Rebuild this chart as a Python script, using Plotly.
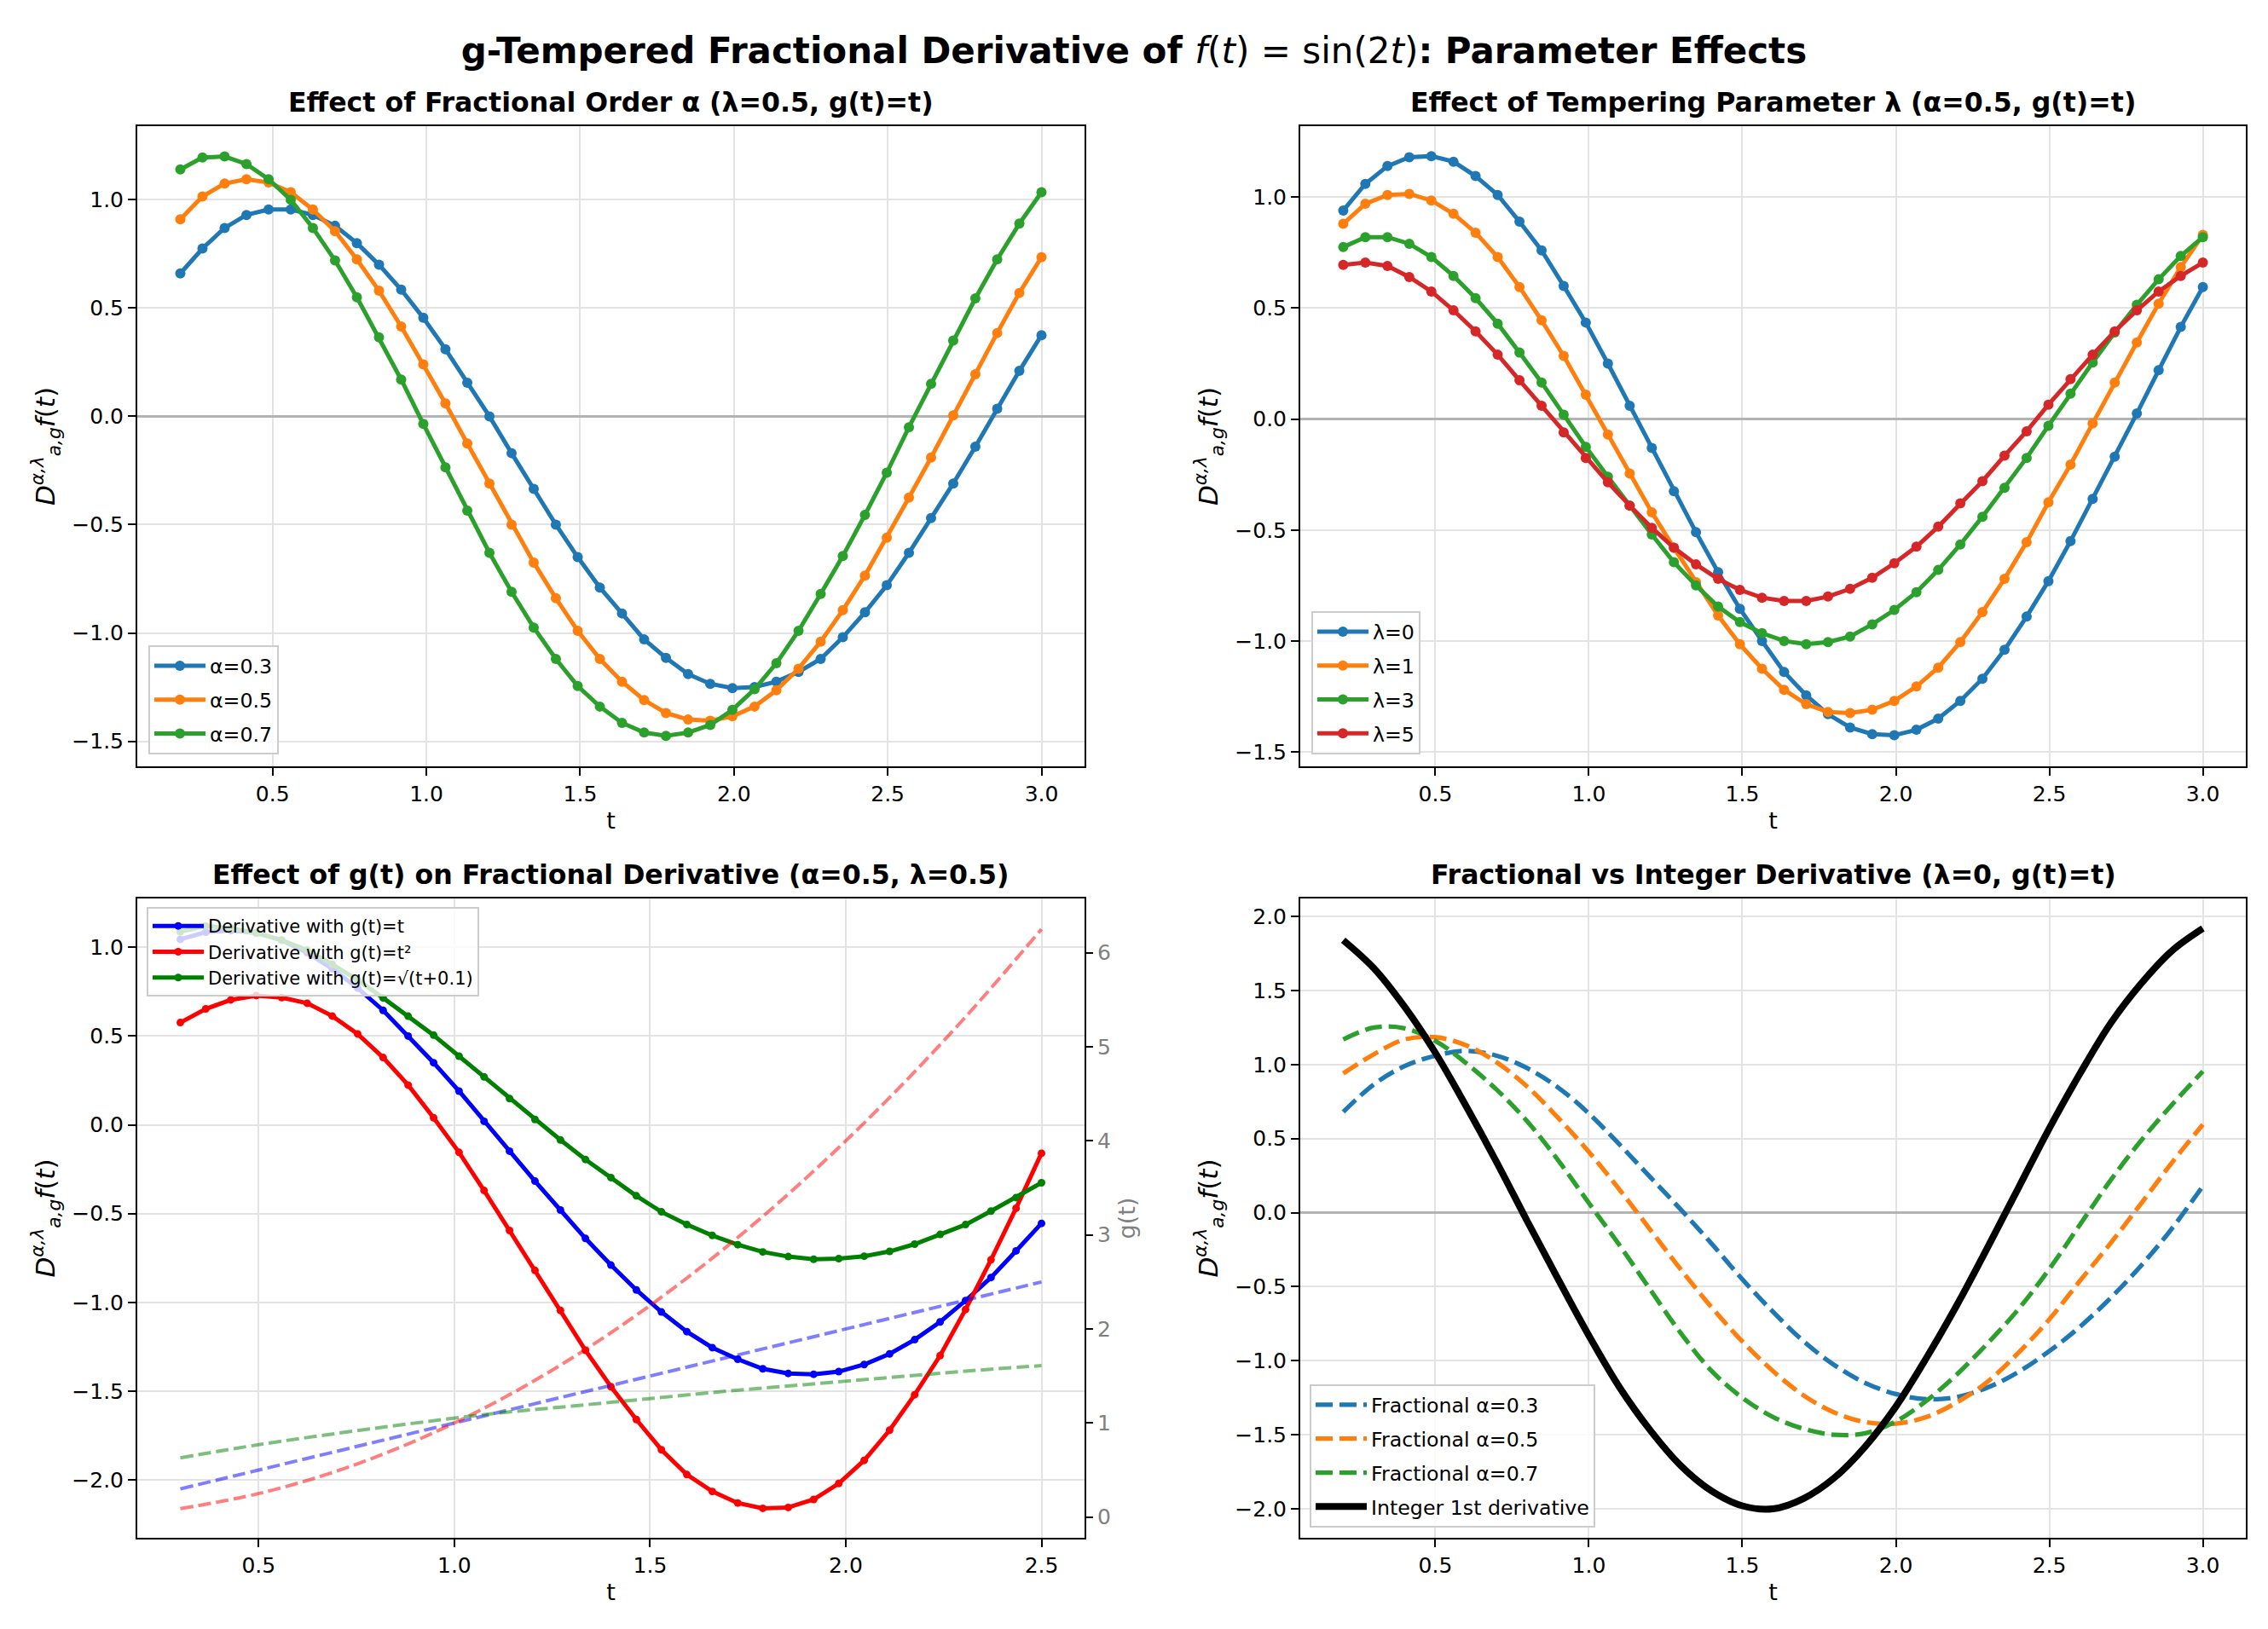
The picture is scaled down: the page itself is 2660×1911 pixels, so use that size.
import plotly.graph_objects as go

# ---------------- data ----------------
# common time grid for panels 1 and 2 (40 points)
t40 = [0.200, 0.272, 0.344, 0.415, 0.487, 0.559, 0.631, 0.703, 0.774, 0.846,
       0.918, 0.990, 1.062, 1.133, 1.205, 1.277, 1.349, 1.421, 1.492, 1.564,
       1.636, 1.708, 1.779, 1.851, 1.923, 1.995, 2.067, 2.138, 2.210, 2.282,
       2.354, 2.426, 2.497, 2.569, 2.641, 2.713, 2.785, 2.856, 2.928, 3.000]

# Panel 1: effect of alpha (lambda=0.5, g(t)=t)
alpha_labels = ["α=0.3", "α=0.5", "α=0.7"]
p1_a03 = [0.66, 0.775, 0.87, 0.93, 0.955, 0.955, 0.93, 0.88, 0.80, 0.70,
          0.585, 0.455, 0.31, 0.155, 0.0, -0.17, -0.335, -0.50, -0.65, -0.79,
          -0.91, -1.03, -1.115, -1.19, -1.235, -1.255, -1.25, -1.225, -1.18, -1.12,
          -1.02, -0.905, -0.78, -0.63, -0.47, -0.31, -0.14, 0.035, 0.21, 0.375]
p1_a05 = [0.91, 1.015, 1.075, 1.095, 1.08, 1.035, 0.955, 0.855, 0.725, 0.58,
          0.415, 0.24, 0.06, -0.125, -0.31, -0.50, -0.675, -0.84, -0.99, -1.12,
          -1.225, -1.31, -1.37, -1.40, -1.405, -1.385, -1.34, -1.265, -1.165, -1.04,
          -0.895, -0.735, -0.56, -0.375, -0.19, 0.005, 0.195, 0.385, 0.57, 0.735]
p1_a07 = [1.14, 1.195, 1.20, 1.165, 1.095, 1.00, 0.87, 0.72, 0.55, 0.365,
          0.17, -0.035, -0.235, -0.435, -0.63, -0.81, -0.975, -1.12, -1.245, -1.34,
          -1.415, -1.46, -1.475, -1.46, -1.425, -1.355, -1.26, -1.14, -0.99, -0.82,
          -0.645, -0.455, -0.26, -0.05, 0.15, 0.35, 0.545, 0.725, 0.89, 1.035]

# Panel 2: effect of lambda (alpha=0.5, g(t)=t)
lambda_labels = ["λ=0", "λ=1", "λ=3", "λ=5"]
p2_l0 = [0.94, 1.06, 1.14, 1.18, 1.185, 1.16, 1.095, 1.01, 0.89, 0.76,
         0.60, 0.435, 0.25, 0.06, -0.13, -0.325, -0.51, -0.69, -0.855, -1.00,
         -1.14, -1.245, -1.33, -1.39, -1.42, -1.425, -1.40, -1.35, -1.27, -1.17,
         -1.04, -0.89, -0.73, -0.55, -0.36, -0.17, 0.025, 0.22, 0.415, 0.595]
p2_l1 = [0.88, 0.97, 1.01, 1.015, 0.985, 0.925, 0.84, 0.73, 0.595, 0.445,
         0.285, 0.11, -0.07, -0.245, -0.42, -0.58, -0.735, -0.885, -1.015, -1.125,
         -1.22, -1.285, -1.32, -1.325, -1.31, -1.27, -1.205, -1.12, -1.005, -0.87,
         -0.72, -0.555, -0.375, -0.205, -0.02, 0.165, 0.345, 0.52, 0.685, 0.83]
p2_l3 = [0.775, 0.82, 0.82, 0.79, 0.73, 0.645, 0.545, 0.43, 0.30, 0.165,
         0.02, -0.125, -0.26, -0.39, -0.52, -0.645, -0.75, -0.845, -0.915, -0.965,
         -1.00, -1.015, -1.005, -0.98, -0.925, -0.86, -0.78, -0.68, -0.565, -0.44,
         -0.31, -0.175, -0.03, 0.115, 0.255, 0.39, 0.515, 0.63, 0.735, 0.82]
p2_l5 = [0.695, 0.705, 0.69, 0.64, 0.575, 0.49, 0.395, 0.29, 0.175, 0.06,
         -0.06, -0.175, -0.285, -0.39, -0.49, -0.58, -0.655, -0.72, -0.77, -0.805,
         -0.82, -0.82, -0.80, -0.765, -0.715, -0.65, -0.575, -0.485, -0.38, -0.28,
         -0.165, -0.055, 0.065, 0.18, 0.29, 0.395, 0.49, 0.575, 0.645, 0.705]

# Panel 3: effect of g(t) (alpha=0.5, lambda=0.5), 35 points
t35 = [0.300, 0.365, 0.429, 0.494, 0.559, 0.624, 0.688, 0.753, 0.818, 0.882,
       0.947, 1.012, 1.076, 1.141, 1.206, 1.271, 1.335, 1.400, 1.465, 1.529,
       1.594, 1.659, 1.724, 1.788, 1.853, 1.918, 1.982, 2.047, 2.112, 2.176,
       2.241, 2.306, 2.371, 2.435, 2.500]
g_labels = ["Derivative with g(t)=t", "Derivative with g(t)=t²",
            "Derivative with g(t)=√(t+0.1)"]
p3_gt = [1.045, 1.085, 1.095, 1.08, 1.04, 0.97, 0.88, 0.77, 0.645, 0.50,
         0.35, 0.19, 0.02, -0.148, -0.317, -0.48, -0.64, -0.79, -0.93, -1.054,
         -1.165, -1.255, -1.32, -1.374, -1.40, -1.405, -1.39, -1.35, -1.29, -1.21,
         -1.11, -0.99, -0.86, -0.71, -0.555]
p3_gt2 = [0.576, 0.653, 0.704, 0.728, 0.717, 0.685, 0.613, 0.512, 0.379, 0.224,
          0.04, -0.155, -0.37, -0.595, -0.82, -1.045, -1.27, -1.475, -1.66, -1.83,
          -1.97, -2.065, -2.13, -2.16, -2.155, -2.11, -2.02, -1.89, -1.72, -1.52,
          -1.30, -1.04, -0.76, -0.47, -0.16]
p3_gsq = [1.088, 1.12, 1.107, 1.08, 1.04, 0.984, 0.904, 0.816, 0.715, 0.612,
          0.505, 0.387, 0.27, 0.148, 0.03, -0.085, -0.195, -0.297, -0.40, -0.49,
          -0.562, -0.623, -0.675, -0.716, -0.742, -0.757, -0.754, -0.74, -0.713, -0.672,
          -0.617, -0.562, -0.486, -0.41, -0.326]
# g(t) curves on the right axis
t_g = [0.3, 0.5, 0.7, 0.9, 1.1, 1.3, 1.5, 1.7, 1.9, 2.1, 2.3, 2.5]
g_lin = [0.30, 0.50, 0.70, 0.90, 1.10, 1.30, 1.50, 1.70, 1.90, 2.10, 2.30, 2.50]
g_sq = [0.09, 0.25, 0.49, 0.81, 1.21, 1.69, 2.25, 2.89, 3.61, 4.41, 5.29, 6.25]
g_sqrt = [0.63, 0.77, 0.89, 1.00, 1.10, 1.18, 1.26, 1.34, 1.41, 1.48, 1.55, 1.61]

# Panel 4: fractional vs integer derivative (lambda=0, g(t)=t)
t29 = [0.2, 0.3, 0.4, 0.5, 0.6, 0.7, 0.8, 0.9, 1.0, 1.1, 1.2, 1.3, 1.4, 1.5,
       1.6, 1.7, 1.8, 1.9, 2.0, 2.1, 2.2, 2.3, 2.4, 2.5, 2.6, 2.7, 2.8, 2.9, 3.0]
p4_labels = ["Fractional α=0.3", "Fractional α=0.5", "Fractional α=0.7",
             "Integer 1st derivative"]
p4_a03 = [0.68, 0.867, 0.99, 1.06, 1.093, 1.06, 0.975, 0.845, 0.67, 0.46,
          0.24, 0.02, -0.21, -0.45, -0.67, -0.87, -1.03, -1.15, -1.225, -1.26,
          -1.245, -1.18, -1.075, -0.935, -0.77, -0.575, -0.355, -0.105, 0.18]
p4_a05 = [0.94, 1.07, 1.17, 1.185, 1.13, 1.015, 0.85, 0.64, 0.41, 0.155,
          -0.115, -0.385, -0.64, -0.87, -1.07, -1.235, -1.35, -1.415, -1.425, -1.38,
          -1.28, -1.14, -0.945, -0.72, -0.46, -0.205, 0.065, 0.34, 0.595]
p4_a07 = [1.17, 1.25, 1.245, 1.16, 1.01, 0.83, 0.615, 0.354, 0.065, -0.22,
          -0.52, -0.815, -1.07, -1.25, -1.38, -1.46, -1.50, -1.49, -1.41, -1.27,
          -1.09, -0.88, -0.65, -0.38, -0.08, 0.22, 0.49, 0.73, 0.955]
p4_int = [1.84, 1.65, 1.39, 1.08, 0.72, 0.34, -0.06, -0.45, -0.83, -1.18,
          -1.47, -1.71, -1.88, -1.98, -2.00, -1.93, -1.79, -1.58, -1.31, -0.98,
          -0.62, -0.23, 0.17, 0.57, 0.94, 1.28, 1.55, 1.77, 1.92]

# ---------------- styling ----------------
W, H = 2660, 1911
FONT = "DejaVu Sans"
TAB = ["#1f77b4", "#ff7f0e", "#2ca02c", "#d62728"]
TICK_FS = 25
LEG_FS = 23.7
TITLE_FS = 31.6
SUPTITLE_FS = 42

# axes boxes in pixels (left, right, top, bottom)
boxes = {
    1: (161, 1272, 148, 899),
    2: (1525, 2634, 148, 899),
    3: (161, 1272, 1054, 1804),
    4: (1525, 2634, 1054, 1804),
}


def xdom(b):
    return [b[0] / W, b[1] / W]


def ydom(b):
    return [1 - b[3] / H, 1 - b[2] / H]


fig = go.Figure()

ylab = "<i>D</i><sup><i>α,λ</i></sup><sub><i>a,g</i></sub><i>f</i>(<i>t</i>)"

# Panel 1
for i, (ys, lab) in enumerate(zip([p1_a03, p1_a05, p1_a07], alpha_labels)):
    fig.add_trace(go.Scatter(x=t40, y=ys, name=lab, mode="lines+markers",
                             line=dict(color=TAB[i], width=5),
                             marker=dict(size=12, color=TAB[i]),
                             xaxis="x", yaxis="y", legend="legend",
                             legendgroup="p1_%d" % i))
# Panel 2
for i, (ys, lab) in enumerate(zip([p2_l0, p2_l1, p2_l3, p2_l5], lambda_labels)):
    fig.add_trace(go.Scatter(x=t40, y=ys, name=lab, mode="lines+markers",
                             line=dict(color=TAB[i], width=5),
                             marker=dict(size=12, color=TAB[i]),
                             xaxis="x2", yaxis="y2", legend="legend2",
                             legendgroup="p2_%d" % i))
# Panel 3
p3cols = ["#0000ff", "#ff0000", "#008000"]
for i, (ys, lab) in enumerate(zip([p3_gt, p3_gt2, p3_gsq], g_labels)):
    fig.add_trace(go.Scatter(x=t35, y=ys, name=lab, mode="lines+markers",
                             line=dict(color=p3cols[i], width=5),
                             marker=dict(size=9, color=p3cols[i]),
                             xaxis="x3", yaxis="y3", legend="legend3",
                             legendgroup="p3_%d" % i))
for i, gs in enumerate([g_lin, g_sq, g_sqrt]):
    fig.add_trace(go.Scatter(x=t_g, y=gs, mode="lines", showlegend=False,
                             line=dict(color=p3cols[i], width=4, dash="15px,6px",
                                       shape="spline"),
                             opacity=0.5, xaxis="x3", yaxis="y5"))
# Panel 4
for i, (ys, lab) in enumerate(zip([p4_a03, p4_a05, p4_a07], p4_labels[:3])):
    fig.add_trace(go.Scatter(x=t29, y=ys, name=lab, mode="lines",
                             line=dict(color=TAB[i], width=5.3, dash="20px,8px",
                                       shape="spline"),
                             xaxis="x4", yaxis="y4", legend="legend4",
                             legendgroup="p4_%d" % i))
fig.add_trace(go.Scatter(x=t29, y=p4_int, name=p4_labels[3], mode="lines",
                         line=dict(color="black", width=8, shape="spline"),
                         xaxis="x4", yaxis="y4", legend="legend4",
                         legendgroup="p4_3"))

axis_common = dict(showline=True, linecolor="black", linewidth=2, mirror=True,
                   ticks="outside", ticklen=9, tickwidth=2, tickcolor="black",
                   showgrid=True, gridcolor="#e3e3e3", gridwidth=1.5,
                   tickfont=dict(family=FONT, size=TICK_FS, color="black"),
                   tickformat=".1f")

xr = {1: [0.06, 3.14], 2: [0.06, 3.14], 3: [0.19, 2.61], 4: [0.06, 3.14]}
yr = {1: [-1.616, 1.34], 2: [-1.565, 1.32], 3: [-2.326, 1.275], 4: [-2.196, 2.122]}

layout = dict(width=W, height=H, margin=dict(l=0, r=0, t=0, b=0),
              paper_bgcolor="white", plot_bgcolor="white",
              font=dict(family=FONT, color="black"))

for k in range(1, 5):
    sx = "" if k == 1 else str(k)
    b = boxes[k]
    layout["xaxis" + sx] = dict(axis_common, domain=xdom(b), range=xr[k],
                                anchor="y" + sx, dtick=0.5, tick0=0,
                                zeroline=False,
                                title=dict(text="t", font=dict(family=FONT, size=27),
                                           standoff=8))
    layout["yaxis" + sx] = dict(axis_common, domain=ydom(b), range=yr[k],
                                anchor="x" + sx, dtick=0.5, tick0=0,
                                zeroline=(k != 3), zerolinecolor="#b3b3b3",
                                zerolinewidth=3,
                                title=dict(text=ylab, font=dict(family=FONT, size=31),
                                           standoff=10))

layout["yaxis5"] = dict(overlaying="y3", side="right", anchor="x3",
                        range=[-0.22, 6.577], dtick=1, tick0=0, tickformat="d",
                        showgrid=False, zeroline=False, showline=False,
                        ticks="outside", ticklen=9, tickwidth=2, tickcolor="black",
                        tickfont=dict(family=FONT, size=TICK_FS, color="#808080"),
                        title=dict(text="g(t)", font=dict(family=FONT, size=27,
                                                          color="#808080"),
                                   standoff=10))

leg_common = dict(bgcolor="rgba(255,255,255,0.8)", bordercolor="#cccccc",
                  borderwidth=2, font=dict(family=FONT, size=LEG_FS),
                  traceorder="grouped", tracegroupgap=6, itemwidth=60)
layout["legend"] = dict(leg_common, x=174 / W, y=1 - 885 / H,
                        xanchor="left", yanchor="bottom")
layout["legend2"] = dict(leg_common, x=1538 / W, y=1 - 885 / H,
                         xanchor="left", yanchor="bottom")
layout["legend3"] = dict(leg_common, x=172 / W, y=1 - 1064 / H,
                         xanchor="left", yanchor="top", tracegroupgap=0,
                         font=dict(family=FONT, size=21))
layout["legend4"] = dict(leg_common, x=1536 / W, y=1 - 1792 / H,
                         xanchor="left", yanchor="bottom")

layout["title"] = dict(
    text="<b>g-Tempered Fractional Derivative of </b><i>f</i>(<i>t</i>) = sin(2<i>t</i>)"
         "<b>: Parameter Effects</b>",
    x=0.5, xanchor="center", y=1 - 59 / H, yanchor="middle",
    font=dict(family=FONT, size=SUPTITLE_FS, color="black"))

sub_titles = {
    1: "Effect of Fractional Order α (λ=0.5, g(t)=t)",
    2: "Effect of Tempering Parameter λ (α=0.5, g(t)=t)",
    3: "Effect of g(t) on Fractional Derivative (α=0.5, λ=0.5)",
    4: "Fractional vs Integer Derivative (λ=0, g(t)=t)",
}
annotations = []
for k, txt in sub_titles.items():
    b = boxes[k]
    annotations.append(dict(text="<b>" + txt + "</b>", xref="paper", yref="paper",
                            x=(b[0] + b[1]) / 2 / W, y=1 - b[2] / H,
                            xanchor="center", yanchor="bottom", yshift=8,
                            showarrow=False,
                            font=dict(family=FONT, size=TITLE_FS, color="black")))
layout["annotations"] = annotations

fig.update_layout(layout)

fig.write_html("out.html", config={"displayModeBar": False},
               post_script="document.body.style.margin='0';document.body.style.overflow='hidden';")
